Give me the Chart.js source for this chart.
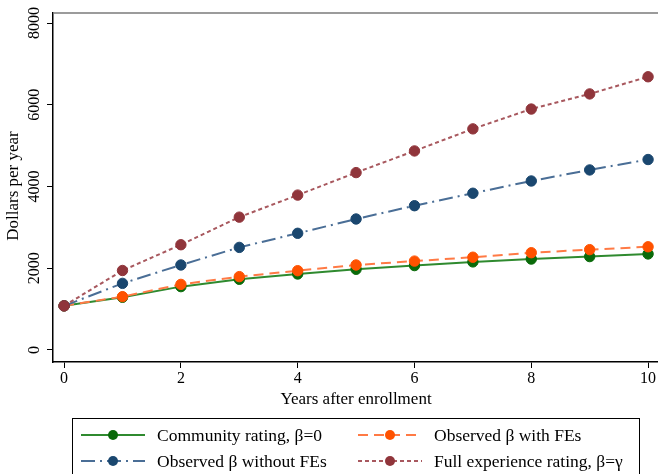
<!DOCTYPE html>
<html lang="en">
<head>
  <meta charset="UTF-8" />
  <title>Dollars per year by years after enrollment</title>
  <script src="https://cdn.jsdelivr.net/npm/chart.js"></script>
  <style>
    body { margin: 0; background: #ffffff; }
    .wrap { width: 658px; height: 474px; position: relative; }
  </style>
</head>
<body>
  <div class="wrap"><canvas id="chart" width="658" height="474"></canvas></div>

  <script>
    // values
    const years = [0, 1, 2, 3, 4, 5, 6, 7, 8, 9, 10];
    const community = [1080, 1290, 1550, 1730, 1860, 1975, 2065, 2155, 2225, 2285, 2350];
    const withFE = [1080, 1305, 1605, 1795, 1940, 2080, 2175, 2270, 2380, 2455, 2525];
    const withoutFE = [1080, 1630, 2080, 2510, 2855, 3205, 3530, 3835, 4135, 4405, 4660];
    const fullExp = [1080, 1945, 2575, 3250, 3790, 4340, 4870, 5410, 5895, 6265, 6685];

    const xTicks = [0, 2, 4, 6, 8, 10];
    const yTicks = [0, 2000, 4000, 6000, 8000];
    const seriesNames = [
      'Community rating, \u03b2=0',
      'Observed \u03b2 with FEs',
      'Observed \u03b2 without FEs',
      'Full experience rating, \u03b2=\u03b3'
    ];

    const FONT = "'Liberation Serif', 'Times New Roman', serif";

    function pts(vals) {
      return vals.map((v, i) => ({ x: years[i], y: v }));
    }

    function series(label, vals, line, marker, dash, order) {
      return {
        label: label,
        data: pts(vals),
        borderColor: line,
        borderWidth: 2,
        borderDash: dash,
        pointRadius: 5.2,
        pointBackgroundColor: marker,
        pointBorderColor: marker,
        pointBorderWidth: 1,
        fill: false,
        tension: 0,
        clip: false,
        order: order
      };
    }

    const datasets = [
      series(seriesNames[0], community, '#2f8a2f', '#0a6a0a', [], 4),
      series(seriesNames[1], withFE, '#ff7a45', '#ff5200', [10, 6], 3),
      series(seriesNames[2], withoutFE, '#4a6e96', '#1a476f', [14, 5, 2, 5], 2),
      series(seriesNames[3], fullExp, '#a8585e', '#90353b', [4, 3], 1)
    ];

    const extras = {
      id: 'extras',
      afterDraw(chart) {
        const c = chart.ctx;
        const area = chart.chartArea;
        const xs = chart.scales.x;
        const ys = chart.scales.y;
        c.save();

        // top frame line
        c.strokeStyle = '#7a7a7a';
        c.lineWidth = 1.5;
        c.beginPath();
        c.moveTo(area.left, area.top);
        c.lineTo(area.right, area.top);
        c.stroke();

        c.fillStyle = '#000';
        c.font = '16px ' + FONT;
        c.textAlign = 'center';
        c.textBaseline = 'middle';

        // x tick labels
        xTicks.forEach(v => {
          c.fillText(String(v), xs.getPixelForValue(v), 379);
        });

        // rotated y tick labels
        yTicks.forEach(v => {
          c.save();
          c.translate(35, ys.getPixelForValue(v));
          c.rotate(-Math.PI / 2);
          c.fillText(String(v), 0, 0);
          c.restore();
        });

        // axis titles
        c.font = '17px ' + FONT;
        c.save();
        c.translate(14, 186);
        c.rotate(-Math.PI / 2);
        c.fillText('Dollars per year', 0, 0);
        c.restore();
        c.fillText('Years after enrollment', 356, 400);

        // legend
        c.strokeStyle = '#000';
        c.lineWidth = 1;
        c.strokeRect(72.5, 418.5, 567, 70);
        const slots = [
          { x: 81, y: 435 }, { x: 358, y: 435 },
          { x: 81, y: 461 }, { x: 358, y: 461 }
        ];
        c.textAlign = 'left';
        c.font = '17.5px ' + FONT;
        chart.data.datasets.forEach((ds, i) => {
          const s = slots[i];
          c.save();
          c.strokeStyle = ds.borderColor;
          c.lineWidth = ds.borderWidth;
          c.setLineDash(ds.borderDash);
          c.beginPath();
          c.moveTo(s.x, s.y);
          c.lineTo(s.x + 64, s.y);
          c.stroke();
          c.restore();
          c.fillStyle = ds.pointBackgroundColor;
          c.beginPath();
          c.arc(s.x + 32, s.y, 5, 0, Math.PI * 2);
          c.fill();
          c.fillStyle = '#000';
          c.fillText(ds.label, s.x + 76, s.y + 1);
        });

        c.restore();
      }
    };

    new Chart(document.getElementById('chart'), {
      type: 'line',
      data: { datasets: datasets },
      options: {
        responsive: false,
        animation: false,
        layout: { autoPadding: false, padding: { top: 13, left: 0, right: 0, bottom: 0 } },
        plugins: {
          legend: { display: false },
          tooltip: { enabled: false }
        },
        scales: {
          x: {
            type: 'linear',
            min: -0.19,
            max: 10.17,
            afterBuildTicks: s => { s.ticks = xTicks.map(v => ({ value: v })); },
            afterFit: s => { s.height = 112; },
            grid: { display: true, drawOnChartArea: false, drawTicks: true, tickLength: 6, color: '#000', lineWidth: 1 },
            border: { display: true, color: '#000', width: 1.5 },
            ticks: { display: false }
          },
          y: {
            min: -294,
            max: 8245,
            afterBuildTicks: s => { s.ticks = yTicks.map(v => ({ value: v })); },
            afterFit: s => { s.width = 53; },
            grid: { display: true, drawOnChartArea: false, drawTicks: true, tickLength: 6, color: '#000', lineWidth: 1 },
            border: { display: true, color: '#000', width: 1.5 },
            ticks: { display: false }
          }
        }
      },
      plugins: [extras]
    });
  </script>
</body>
</html>
